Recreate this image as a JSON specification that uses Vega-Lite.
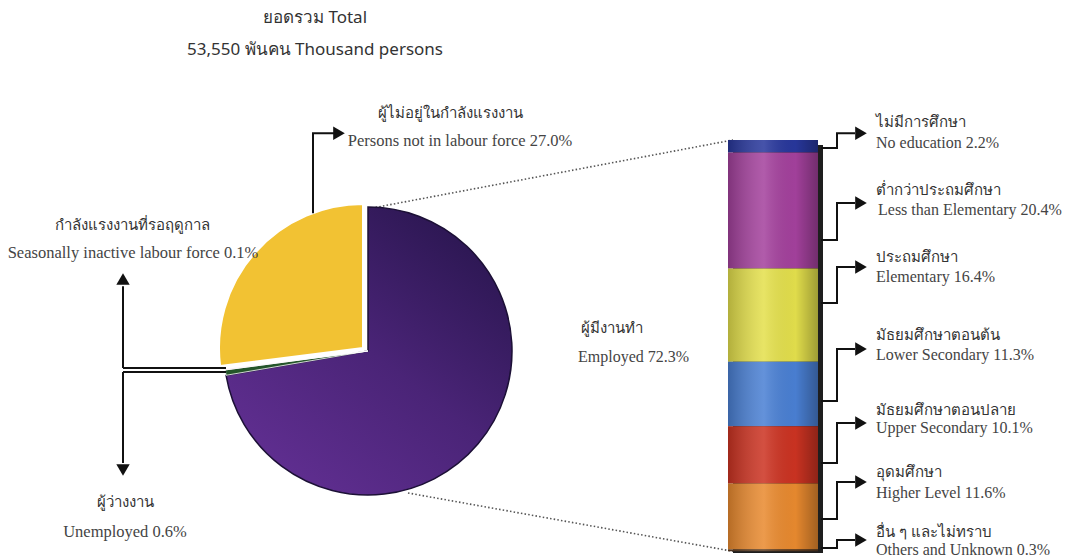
{
  "$schema": "https://vega.github.io/schema/vega-lite/v6.json",
  "width": 1077,
  "height": 557,
  "padding": 0,
  "autosize": {"type": "none"},
  "background": "#ffffff",
  "config": {"view": {"stroke": null}, "axis": {"disable": true}},
  "resolve": {"scale": {"color": "independent", "shape": "independent"}},
  "datasets": {
    "pie": [
      {"cat": "Employed", "pct": 72.3, "ord": 1},
      {"cat": "Unemployed", "pct": 0.6, "ord": 2},
      {"cat": "Seasonally inactive", "pct": 0.1, "ord": 3},
      {"cat": "Not in labour force", "pct": 27.0, "ord": 4}
    ],
    "edu": [
      {"level": "No education", "pct": 2.2, "ord": 1},
      {"level": "Less than Elementary", "pct": 20.4, "ord": 2},
      {"level": "Elementary", "pct": 16.4, "ord": 3},
      {"level": "Lower Secondary", "pct": 11.3, "ord": 4},
      {"level": "Upper Secondary", "pct": 10.1, "ord": 5},
      {"level": "Higher Level", "pct": 11.6, "ord": 6},
      {"level": "Others and Unknown", "pct": 0.3, "ord": 7}
    ],
    "paths": [
      {"p": "lf", "i": 1, "x": 313, "y": 59.43}, {"p": "lf", "i": 2, "x": 313, "y": 73.49}, {"p": "lf", "i": 3, "x": 334, "y": 73.49},
      {"p": "v1", "i": 1, "x": 123, "y": 46.6}, {"p": "v1", "i": 2, "x": 123, "y": 32.22},
      {"p": "v2", "i": 1, "x": 123, "y": 31.52}, {"p": "v2", "i": 2, "x": 123, "y": 15.5},
      {"p": "h1", "i": 1, "x": 123, "y": 32.22}, {"p": "h1", "i": 2, "x": 226, "y": 32.22},
      {"p": "h2", "i": 1, "x": 123, "y": 31.52}, {"p": "h2", "i": 2, "x": 226, "y": 31.52},
      {"p": "e1", "i": 1, "x": 821, "y": 70.87}, {"p": "e1", "i": 2, "x": 837, "y": 70.87}, {"p": "e1", "i": 3, "x": 837, "y": 73.49}, {"p": "e1", "i": 4, "x": 855, "y": 73.49},
      {"p": "e2", "i": 1, "x": 821, "y": 54.72}, {"p": "e2", "i": 2, "x": 837, "y": 54.72}, {"p": "e2", "i": 3, "x": 837, "y": 61.23}, {"p": "e2", "i": 4, "x": 855, "y": 61.23},
      {"p": "e3", "i": 1, "x": 821, "y": 43.64}, {"p": "e3", "i": 2, "x": 837, "y": 43.64}, {"p": "e3", "i": 3, "x": 837, "y": 49.98}, {"p": "e3", "i": 4, "x": 855, "y": 49.98},
      {"p": "e4", "i": 1, "x": 821, "y": 26.42}, {"p": "e4", "i": 2, "x": 837, "y": 26.42}, {"p": "e4", "i": 3, "x": 837, "y": 35.56}, {"p": "e4", "i": 4, "x": 855, "y": 35.56},
      {"p": "e5", "i": 1, "x": 821, "y": 15.52}, {"p": "e5", "i": 2, "x": 837, "y": 15.52}, {"p": "e5", "i": 3, "x": 837, "y": 22.55}, {"p": "e5", "i": 4, "x": 855, "y": 22.55},
      {"p": "e6", "i": 1, "x": 821, "y": 5.68}, {"p": "e6", "i": 2, "x": 837, "y": 5.68}, {"p": "e6", "i": 3, "x": 837, "y": 12.18}, {"p": "e6", "i": 4, "x": 855, "y": 12.18},
      {"p": "e7", "i": 1, "x": 821, "y": 0.58}, {"p": "e7", "i": 2, "x": 837, "y": 0.58}, {"p": "e7", "i": 3, "x": 837, "y": 1.99}, {"p": "e7", "i": 4, "x": 855, "y": 1.99}
    ],
    "arrows": [
      {"x": 339, "y": 73.49, "dir": "right"},
      {"x": 123, "y": 47.86, "dir": "up"},
      {"x": 123, "y": 14.29, "dir": "down"},
      {"x": 861, "y": 73.49, "dir": "right"},
      {"x": 861, "y": 61.23, "dir": "right"},
      {"x": 861, "y": 49.98, "dir": "right"},
      {"x": 861, "y": 35.56, "dir": "right"},
      {"x": 861, "y": 22.55, "dir": "right"},
      {"x": 861, "y": 12.18, "dir": "right"},
      {"x": 861, "y": 1.99, "dir": "right"}
    ],
    "dots": [
      {"x": 372, "y": 60.33, "x2": 733, "y2": 72.3},
      {"x": 408, "y": 10.25, "x2": 733, "y2": 0}
    ],
    "titles": [
      {"t": "ยอดรวม  Total", "x": 315, "y": 93.74},
      {"t": "53,550 พันคน  Thousand persons", "x": 315, "y": 88.12}
    ],
    "thaiC": [
      {"t": "ผู้ไม่อยู่ในกำลังแรงงาน", "x": 450, "y": 77.04},
      {"t": "กำลังแรงงานที่รอฤดูกาล", "x": 132, "y": 57.36},
      {"t": "ผู้ว่างงาน", "x": 125, "y": 8.67}
    ],
    "engC": [
      {"t": "Persons not in labour force 27.0%", "x": 460, "y": 72.12},
      {"t": "Seasonally inactive labour force 0.1%", "x": 133, "y": 52.43},
      {"t": "Unemployed 0.6%", "x": 125, "y": 3.39}
    ],
    "thaiL": [
      {"t": "ผู้มีงานทำ", "x": 581, "y": 39.25},
      {"t": "ไม่มีการศึกษา", "x": 876, "y": 75.46},
      {"t": "ต่ำกว่าประถมศึกษา", "x": 876, "y": 63.47},
      {"t": "ประถมศึกษา", "x": 876, "y": 51.73},
      {"t": "มัธยมศึกษาตอนต้น", "x": 876, "y": 38.02},
      {"t": "มัธยมศึกษาตอนปลาย", "x": 876, "y": 24.84},
      {"t": "อุดมศึกษา", "x": 876, "y": 13.94},
      {"t": "อื่น ๆ และไม่ทราบ", "x": 876, "y": 3.4}
    ],
    "engL": [
      {"t": "Employed 72.3%", "x": 578, "y": 34.15},
      {"t": "No education 2.2%", "x": 876, "y": 71.75},
      {"t": "Less than Elementary 20.4%", "x": 878, "y": 59.96},
      {"t": "Elementary 16.4%", "x": 876, "y": 48.21},
      {"t": "Lower Secondary 11.3%", "x": 876, "y": 34.5},
      {"t": "Upper Secondary 10.1%", "x": 876, "y": 21.67},
      {"t": "Higher Level 11.6%", "x": 876, "y": 10.25},
      {"t": "Others and Unknown 0.3%", "x": 876, "y": 0.3}
    ]
  },
  "layer": [
    {
      "data": {"name": "dots"},
      "mark": {"type": "rule", "color": "#555555", "strokeWidth": 1.6, "strokeDash": [1.5, 2.2]},
      "encoding": {
        "x": {"field": "x", "type": "quantitative", "scale": {"domain": [0, 1077], "nice": false, "zero": false}},
        "y": {"field": "y", "type": "quantitative", "scale": {"domain": [-1.0, 96.9], "nice": false, "zero": false}},
        "x2": {"field": "x2"},
        "y2": {"field": "y2"}
      }
    },
    {
      "data": {"name": "pie"},
      "transform": [
        {"stack": "pct", "groupby": [], "sort": [{"field": "ord", "order": "ascending"}], "as": ["a0", "a1"]},
        {"filter": "datum.cat === 'Employed'"}
      ],
      "mark": {
        "type": "arc", "outerRadius": 144, "stroke": "#1c1036", "strokeWidth": 1.5,
        "fill": {"gradient": "linear", "x1": 0.85, "y1": 0.05, "x2": 0.15, "y2": 0.95,
          "stops": [{"offset": 0, "color": "#2a1650"}, {"offset": 0.5, "color": "#4a2477"}, {"offset": 1, "color": "#612f92"}]}
      },
      "encoding": {
        "theta": {"field": "a0", "type": "quantitative", "scale": {"domain": [0, 100], "range": [0, 6.283185307]}},
        "theta2": {"field": "a1"},
        "x": {"datum": 368, "type": "quantitative", "scale": {"domain": [0, 1077], "nice": false, "zero": false}},
        "y": {"datum": 35.21, "type": "quantitative", "scale": {"domain": [-1.0, 96.9], "nice": false, "zero": false}}
      }
    },
    {
      "data": {"name": "pie"},
      "transform": [
        {"stack": "pct", "groupby": [], "sort": [{"field": "ord", "order": "ascending"}], "as": ["a0", "a1"]},
        {"filter": "datum.cat === 'Unemployed' || datum.cat === 'Seasonally inactive'"}
      ],
      "mark": {"type": "arc", "outerRadius": 144, "stroke": "#ffffff", "strokeWidth": 0.8},
      "encoding": {
        "theta": {"field": "a0", "type": "quantitative", "scale": {"domain": [0, 100], "range": [0, 6.283185307]}},
        "theta2": {"field": "a1"},
        "x": {"datum": 368, "type": "quantitative", "scale": {"domain": [0, 1077], "nice": false, "zero": false}},
        "y": {"datum": 35.21, "type": "quantitative", "scale": {"domain": [-1.0, 96.9], "nice": false, "zero": false}},
        "color": {"field": "cat", "type": "nominal", "legend": null,
          "scale": {"domain": ["Unemployed", "Seasonally inactive"], "range": ["#24552a", "#e9c6e6"]}}
      }
    },
    {
      "data": {"name": "pie"},
      "transform": [
        {"stack": "pct", "groupby": [], "sort": [{"field": "ord", "order": "ascending"}], "as": ["a0", "a1"]},
        {"filter": "datum.cat === 'Not in labour force'"}
      ],
      "mark": {"type": "arc", "outerRadius": 144, "fill": "#f2c233", "stroke": "#ffffff", "strokeWidth": 2},
      "encoding": {
        "theta": {"field": "a0", "type": "quantitative", "scale": {"domain": [0, 100], "range": [0, 6.283185307]}},
        "theta2": {"field": "a1"},
        "x": {"datum": 363, "type": "quantitative", "scale": {"domain": [0, 1077], "nice": false, "zero": false}},
        "y": {"datum": 35.74, "type": "quantitative", "scale": {"domain": [-1.0, 96.9], "nice": false, "zero": false}}
      }
    },
    {
      "data": {"values": [{"shadow": 1}]},
      "mark": {"type": "rect", "fill": "#1e1e1e"},
      "encoding": {
        "x": {"datum": 733, "type": "quantitative", "scale": {"domain": [0, 1077], "nice": false, "zero": false}},
        "x2": {"datum": 823},
        "y": {"datum": -0.3, "type": "quantitative", "scale": {"domain": [-1.0, 96.9], "nice": false, "zero": false}},
        "y2": {"datum": 71.4}
      }
    },
    {
      "data": {"name": "edu"},
      "transform": [
        {"stack": "pct", "groupby": [], "sort": [{"field": "ord", "order": "descending"}], "as": ["y0", "y1"]}
      ],
      "mark": {"type": "rect"},
      "encoding": {
        "x": {"datum": 728, "type": "quantitative", "scale": {"domain": [0, 1077], "nice": false, "zero": false}},
        "x2": {"datum": 818},
        "y": {"field": "y0", "type": "quantitative", "scale": {"domain": [-1.0, 96.9], "nice": false, "zero": false}},
        "y2": {"field": "y1"},
        "color": {"field": "level", "type": "nominal", "legend": null,
          "scale": {"domain": ["No education", "Less than Elementary", "Elementary", "Lower Secondary", "Upper Secondary", "Higher Level", "Others and Unknown"],
            "range": ["#28379c", "#a4419d", "#e4e04c", "#4a80d4", "#cc3322", "#e98a2f", "#5a3a20"]}}
      }
    },
    {
      "data": {"values": [{"shade": 1}]},
      "mark": {"type": "rect",
        "fill": {"gradient": "linear", "x1": 0, "y1": 0, "x2": 1, "y2": 0,
          "stops": [{"offset": 0, "color": "rgba(0,0,0,0.22)"}, {"offset": 0.4, "color": "rgba(255,255,255,0.14)"}, {"offset": 0.75, "color": "rgba(0,0,0,0.02)"}, {"offset": 1, "color": "rgba(0,0,0,0.3)"}]}},
      "encoding": {
        "x": {"datum": 728, "type": "quantitative", "scale": {"domain": [0, 1077], "nice": false, "zero": false}},
        "x2": {"datum": 818},
        "y": {"datum": 0, "type": "quantitative", "scale": {"domain": [-1.0, 96.9], "nice": false, "zero": false}},
        "y2": {"datum": 72.3}
      }
    },
    {
      "data": {"name": "paths"},
      "mark": {"type": "line", "color": "#111111", "strokeWidth": 2},
      "encoding": {
        "x": {"field": "x", "type": "quantitative", "scale": {"domain": [0, 1077], "nice": false, "zero": false}},
        "y": {"field": "y", "type": "quantitative", "scale": {"domain": [-1.0, 96.9], "nice": false, "zero": false}},
        "detail": {"field": "p", "type": "nominal"},
        "order": {"field": "i", "type": "quantitative"}
      }
    },
    {
      "data": {"name": "arrows"},
      "mark": {"type": "point", "filled": true, "color": "#111111", "opacity": 1, "size": 180},
      "encoding": {
        "x": {"field": "x", "type": "quantitative", "scale": {"domain": [0, 1077], "nice": false, "zero": false}},
        "y": {"field": "y", "type": "quantitative", "scale": {"domain": [-1.0, 96.9], "nice": false, "zero": false}},
        "shape": {"field": "dir", "type": "nominal", "legend": null,
          "scale": {"domain": ["right", "up", "down"], "range": ["triangle-right", "triangle-up", "triangle-down"]}}
      }
    },
    {
      "data": {"name": "titles"},
      "mark": {"type": "text", "align": "center", "baseline": "middle", "font": "Noto Sans", "fontSize": 17, "color": "#333333"},
      "encoding": {
        "x": {"field": "x", "type": "quantitative", "scale": {"domain": [0, 1077], "nice": false, "zero": false}},
        "y": {"field": "y", "type": "quantitative", "scale": {"domain": [-1.0, 96.9], "nice": false, "zero": false}},
        "text": {"field": "t"}
      }
    },
    {
      "data": {"name": "thaiC"},
      "mark": {"type": "text", "align": "center", "baseline": "middle", "font": "Noto Sans", "fontSize": 15, "color": "#333333"},
      "encoding": {
        "x": {"field": "x", "type": "quantitative", "scale": {"domain": [0, 1077], "nice": false, "zero": false}},
        "y": {"field": "y", "type": "quantitative", "scale": {"domain": [-1.0, 96.9], "nice": false, "zero": false}},
        "text": {"field": "t"}
      }
    },
    {
      "data": {"name": "engC"},
      "mark": {"type": "text", "align": "center", "baseline": "middle", "font": "Liberation Serif", "fontSize": 16.5, "color": "#444444"},
      "encoding": {
        "x": {"field": "x", "type": "quantitative", "scale": {"domain": [0, 1077], "nice": false, "zero": false}},
        "y": {"field": "y", "type": "quantitative", "scale": {"domain": [-1.0, 96.9], "nice": false, "zero": false}},
        "text": {"field": "t"}
      }
    },
    {
      "data": {"name": "thaiL"},
      "mark": {"type": "text", "align": "left", "baseline": "middle", "font": "Noto Sans", "fontSize": 15, "color": "#333333"},
      "encoding": {
        "x": {"field": "x", "type": "quantitative", "scale": {"domain": [0, 1077], "nice": false, "zero": false}},
        "y": {"field": "y", "type": "quantitative", "scale": {"domain": [-1.0, 96.9], "nice": false, "zero": false}},
        "text": {"field": "t"}
      }
    },
    {
      "data": {"name": "engL"},
      "mark": {"type": "text", "align": "left", "baseline": "middle", "font": "Liberation Serif", "fontSize": 16, "color": "#444444"},
      "encoding": {
        "x": {"field": "x", "type": "quantitative", "scale": {"domain": [0, 1077], "nice": false, "zero": false}},
        "y": {"field": "y", "type": "quantitative", "scale": {"domain": [-1.0, 96.9], "nice": false, "zero": false}},
        "text": {"field": "t"}
      }
    }
  ]
}
